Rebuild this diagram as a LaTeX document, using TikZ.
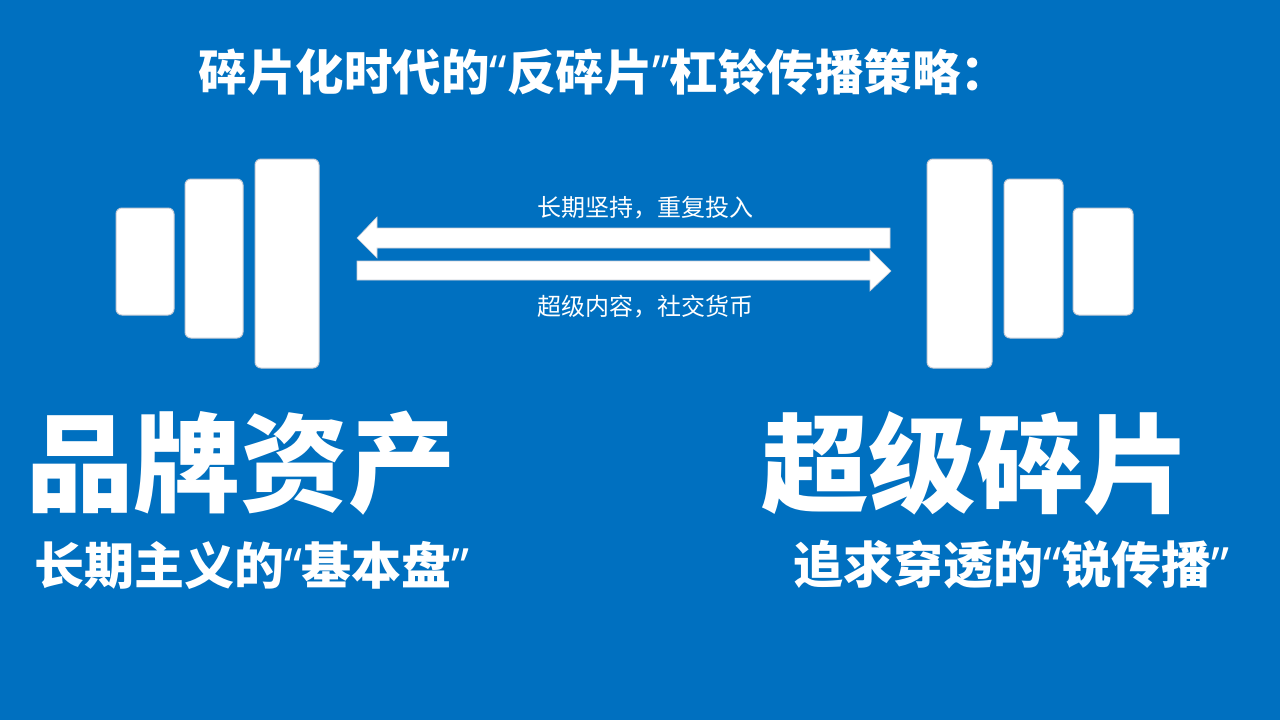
\documentclass[tikz,border=0pt]{standalone}
\usepackage{fontspec}
\newfontfamily\cjk{Noto Sans CJK SC}
\newfontfamily\latq{Noto Sans}
\newcommand{\qopen}{{\latq\bfseries “}}
\newcommand{\qclose}{{\latq\bfseries ”}}
\definecolor{bgblue}{RGB}{0,112,192}
\definecolor{edgegray}{RGB}{200,205,215}
\tikzset{
  weight/.style={draw=edgegray, line width=1pt, fill=white, rounded corners=6pt, inner sep=0pt, minimum width=#1},
  bigtext/.style={text=white, inner sep=0pt, font=\cjk\bfseries\fontsize{107.5}{112}\selectfont},
  subtext/.style={text=white, inner sep=0pt, font=\cjk\bfseries\fontsize{50}{55}\selectfont},
  titletext/.style={text=white, inner sep=0pt, font=\cjk\bfseries\fontsize{48.5}{54}\selectfont},
  arrowlabel/.style={text=white, inner sep=0pt, font=\cjk\fontsize{24}{28}\selectfont},
  bararrow/.style={fill=white, draw=edgegray, line width=0.6pt}
}
\begin{document}
\begin{tikzpicture}[x=1pt,y=-1pt]
\fill[bgblue] (0,0) rectangle (1280,720);
\useasboundingbox (0,0) rectangle (1280,720);

\node[titletext] (title) at (604,72) {碎片化时代的\qopen 反碎片\qclose 杠铃传播策略：};

% left weights
\node[weight=58pt, minimum height=107pt] (l1) at (145,261.5) {};
\node[weight=58pt, minimum height=159pt] (l2) at (214,258.5) {};
\node[weight=64pt, minimum height=209pt] (l3) at (287,263.5) {};
% right weights
\node[weight=65pt, minimum height=209pt] (r3) at (959.5,263.5) {};
\node[weight=59pt, minimum height=159pt] (r2) at (1033.5,258.5) {};
\node[weight=60pt, minimum height=107pt] (r1) at (1103,261.5) {};

% arrows
\coordinate (upL) at (357,238);
\coordinate (loR) at (891,271);
\draw[bararrow] (upL) -- ++(20,-21) -- ++(0,11) -- ++(513,0) -- ++(0,20) -- ++(-513,0) -- ++(0,10) -- cycle;
\draw[bararrow] (loR) -- ++(-21,-21) -- ++(0,11) -- ++(-513,0) -- ++(0,19) -- ++(513,0) -- ++(0,11) -- cycle;

\node[arrowlabel] (t1) at (645,208) {长期坚持，重复投入};
\node[arrowlabel] (t2) at (645,307) {超级内容，社交货币};

\node[bigtext] (brand) at (241,463) {品牌资产};
\node[bigtext] (frag) at (976,464) {超级碎片};
\node[subtext] (s1) at (252,565) {长期主义的\qopen 基本盘\qclose};
\node[subtext] (s2) at (1011,565) {追求穿透的\qopen 锐传播\qclose};
\end{tikzpicture}
\end{document}
